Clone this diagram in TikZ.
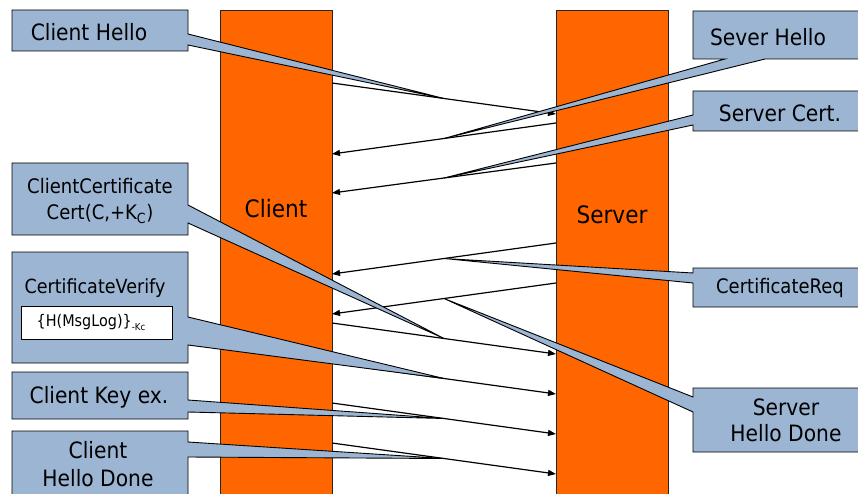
\documentclass[tikz,border=0pt]{standalone}
\usepackage{fontspec}
\setmainfont{DejaVu Sans}[FakeStretch=0.9]
\usetikzlibrary{arrows.meta,calc}
\definecolor{barorange}{RGB}{255,102,0}
\definecolor{noteblue}{RGB}{155,181,211}

\begin{document}
\begin{tikzpicture}[x=1pt,y=-1pt,
  bar/.style={fill=barorange,draw=black!85,line width=0.8pt,anchor=north west,
    minimum width=112pt,minimum height=500pt,inner sep=0pt,outer sep=0pt},
  msg/.style={line width=1.2pt,-{Triangle[length=8pt,width=6pt]}},
  note/.style={fill=noteblue,draw=black,line width=0.9pt,line join=miter},
  big/.style={font=\fontsize{22.5}{27}\selectfont,align=center,inner sep=0pt},
  small/.style={font=\fontsize{20}{26}\selectfont,align=center,inner sep=0pt},
]
\useasboundingbox (0,0) rectangle (858,494);
\clip (0,0) rectangle (858,494);
\fill[white] (0,0) rectangle (858,494);

% the two lifelines
\node[bar] (clientbar) at (220,10) {};
\node[bar] (serverbar) at (556,10) {};
\node[font=\fontsize{24}{28}\selectfont,inner sep=0pt] (clientlbl) at (276,209) {Client};
\node[font=\fontsize{24}{28}\selectfont,inner sep=0pt] (serverlbl) at (612,215) {Server};

% message end points on the lifeline edges
\coordinate (m1a) at (332,83);  \coordinate (m1b) at (556,114);
\coordinate (m2a) at (556,123); \coordinate (m2b) at (332,154);
\coordinate (m3a) at (556,163); \coordinate (m3b) at (332,193);
\coordinate (m4a) at (556,243); \coordinate (m4b) at (332,274);
\coordinate (m5a) at (556,283); \coordinate (m5b) at (332,314);
\coordinate (m6a) at (332,323); \coordinate (m6b) at (556,354);
\coordinate (m7a) at (332,363); \coordinate (m7b) at (556,394);
\coordinate (m8a) at (332,403); \coordinate (m8b) at (556,434);
\coordinate (m9a) at (332,443); \coordinate (m9b) at (556,474);

% messages
\foreach \i in {1,...,9}{
  \draw[msg] (m\i a) -- (m\i b);
  \coordinate (tip\i) at ($(m\i a)!0.5!(m\i b)$);
}

% callouts (box and pointer as one outline)
\draw[note] (12,10) -- (188,10) -- (188,34) -- (tip1) -- (188,45) -- (188,51) -- (12,51) -- cycle;
\node[big] (tClientHello) at (89,32) {Client Hello};

\draw[note] (693,11) -- (864,11) -- (864,59) -- (765,59) -- (tip2) -- (725,59) -- (693,59) -- cycle;
\node[big] (tServerHello) at (768,37) {Sever Hello};

\draw[note] (693,91) -- (864,91) -- (864,131) -- (693,131) -- (693,125) -- (tip3) -- (693,115) -- cycle;
\node[big] (tServerCert) at (780,113) {Server Cert.};

\draw[note] (693,268) -- (864,268) -- (864,307) -- (693,307) -- (693,283) -- (tip4) -- (693,273) -- cycle;
\node[small] (tCertReq) at (780,288) {CertificateReq};

\draw[note] (693,388) -- (864,388) -- (864,452) -- (693,452) -- (693,412) -- (tip5) -- (693,397) -- cycle;
\node[big,font=\fontsize{22.5}{26}\selectfont] (tServerDone) at (786,420) {Server\\Hello Done};

\draw[note] (12,163) -- (188,163) -- (188,205) -- (tip6) -- (188,223) -- (188,235) -- (12,235) -- cycle;
\node[small] (tClientCert) at (100,201) {ClientCertificate\\Cert(C,+K\textsubscript{C})};

\draw[note] (12,252) -- (188,252) -- (188,317) -- (tip7) -- (188,345) -- (188,363) -- (12,363) -- cycle;
\node[small,font=\fontsize{19.5}{24}\selectfont] (tCertVerify) at (95,288) {CertificateVerify};
\node[draw=black,line width=0.9pt,fill=white,anchor=north west,minimum width=151pt,
  minimum height=33pt,inner sep=0pt] (sigbox) at (21,306) {};
\node[font=\fontsize{16}{19}\selectfont,inner sep=0pt] (tSig) at ([xshift=-6pt]sigbox.center)
  {\{H(MsgLog)\}\raisebox{-4pt}{\fontsize{9.5}{10}\selectfont -Kc}};

\draw[note] (12,372) -- (188,372) -- (188,400) -- (tip8) -- (188,412) -- (188,419) -- (12,419) -- cycle;
\node[big] (tKeyEx) at (99,397) {Client Key ex.};

\draw[note] (12,431) -- (188,431) -- (188,442) -- (tip9) -- (188,457) -- (188,504) -- (12,504) -- cycle;
\node[big,font=\fontsize{22.5}{28}\selectfont] (tClientDone) at (98,464) {Client\\Hello Done};
\end{tikzpicture}
\end{document}
